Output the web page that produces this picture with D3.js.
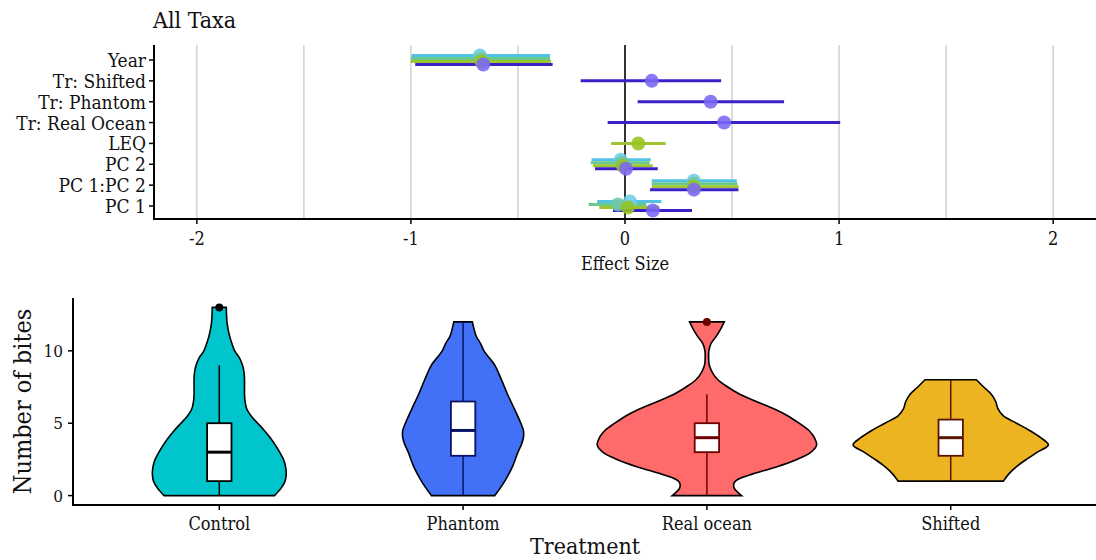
<!DOCTYPE html>
<html>
<head>
<meta charset="utf-8">
<script src="https://cdnjs.cloudflare.com/ajax/libs/d3/7.8.5/d3.min.js"></script>
<style>
  html, body { margin: 0; padding: 0; background: #fff; }
  svg text { font-family: "DejaVu Serif Condensed", "DejaVu Serif", serif; font-stretch: condensed; fill: #111; }
</style>
</head>
<body>
<svg id="chart" width="1096" height="560"></svg>
<script>
// ---------------- DATA ----------------
const chartTitle = "All Taxa";
const effectTerms = ["Year", "Tr: Shifted", "Tr: Phantom", "Tr: Real Ocean", "LEQ", "PC 2", "PC 1:PC 2", "PC 1"];
const effectTicks = [-2, -1, 0, 1, 2];
const effectGrid = [-2, -1.5, -1, -0.5, 0.5, 1, 1.5, 2];
const modelNames = ["Model 1", "Model 2", "Model 3", "Model 4"];
// [term, estimate, lower, upper]
const model1 = [
  ["Year", -0.678, -0.997, -0.35],
  ["PC 2", -0.02, -0.156, 0.12],
  ["PC 1:PC 2", 0.322, 0.125, 0.522],
  ["PC 1", 0.023, -0.13, 0.17]
];
const model2 = [
  ["Year", -0.675, -1.0, -0.35],
  ["PC 2", -0.015, -0.16, 0.115],
  ["PC 1:PC 2", 0.322, 0.125, 0.525],
  ["PC 1", -0.033, -0.17, 0.1]
];
const model3 = [
  ["Year", -0.67, -1.0, -0.345],
  ["LEQ", 0.062, -0.065, 0.19],
  ["PC 2", -0.01, -0.15, 0.13],
  ["PC 1:PC 2", 0.32, 0.125, 0.53],
  ["PC 1", 0.014, -0.12, 0.16]
];
const model4 = [
  ["Year", -0.662, -0.98, -0.338],
  ["Tr: Shifted", 0.125, -0.207, 0.449],
  ["Tr: Phantom", 0.40, 0.059, 0.743],
  ["Tr: Real Ocean", 0.463, -0.081, 1.005],
  ["PC 2", 0.005, -0.14, 0.153],
  ["PC 1:PC 2", 0.322, 0.117, 0.53],
  ["PC 1", 0.13, -0.056, 0.313]
];

const treatments = ["Control", "Phantom", "Real ocean", "Shifted"];
const biteTicks = [0, 5, 10];
const boxMin    = [0, 0, 0, 1];
const boxQ1     = [1, 2.75, 3, 2.75];
const boxMedian = [3, 4.5, 4, 4];
const boxQ3     = [5, 6.5, 5, 5.25];
const boxMax    = [9, 12, 7, 8];
const outliers  = [[13], [], [12], []];
// relative kernel density [bites, density]
const densControl = [[0,0.503],[0.5,0.562],[1,0.6],[1.5,0.61],[2,0.604],[2.5,0.585],[3,0.55],[3.5,0.51],[4,0.464],[4.5,0.41],[5,0.35],[5.5,0.29],[6,0.25],[6.5,0.235],[7,0.23],[7.5,0.23],[8,0.23],[8.5,0.226],[9,0.212],[9.5,0.185],[10,0.14],[10.5,0.115],[11,0.095],[11.5,0.08],[12,0.07],[12.5,0.066],[13,0.064]];
const densPhantom = [[0,0.289],[1,0.38],[2,0.45],[3,0.5],[3.5,0.53],[4,0.55],[4.5,0.55],[5,0.526],[6,0.467],[7,0.405],[8,0.35],[9,0.29],[9.5,0.24],[10,0.19],[10.5,0.16],[11,0.12],[11.5,0.1],[12,0.085]];
const densRealOcean = [[0,0.316],[0.5,0.25],[0.8,0.245],[1,0.26],[1.25,0.32],[1.5,0.42],[2,0.64],[2.5,0.82],[3,0.95],[3.5,1.0],[4,0.98],[4.5,0.93],[5,0.84],[5.5,0.74],[6,0.61],[6.5,0.45],[7,0.3],[7.5,0.19],[8,0.1],[8.5,0.05],[9,0.022],[9.5,0.016],[10,0.018],[10.5,0.037],[11,0.085],[11.5,0.125],[12,0.158]];
const densShifted = [[1,0.48],[1.5,0.53],[2,0.6],[2.5,0.69],[3,0.79],[3.5,0.89],[4,0.82],[4.5,0.72],[5,0.6],[5.5,0.48],[6,0.43],[6.5,0.41],[7,0.37],[7.5,0.3],[8,0.234]];
const densities = [densControl, densPhantom, densRealOcean, densShifted];

// ---------------- STYLE ----------------
const lineColors  = ["#52c2e4", "#68c98c", "#9dc52f", "#3b20c8"];
const pointColors = ["#6ccfe6", "#6fc7a5", "#97c21e", "#7a66f4"];
const violinFill  = ["#00C5CD", "#4271F7", "#FF6A6A", "#EDB422"];
const boxColor    = ["#000000", "#0b1463", "#6e0000", "#5a1400"];

(function draw() {
const svg = d3.select("#chart");

// ================= TOP PANEL =================
const xE = d3.scaleLinear().domain([-2.2, 2.2]).range([154, 1096]);
const yE = d3.scalePoint().domain(effectTerms).range([47.5, 218.5]).padding(0.6);
const topG = svg.append("g");

topG.selectAll("line.grid").data(effectGrid).join("line")
  .attr("x1", d => xE(d)).attr("x2", d => xE(d))
  .attr("y1", 45).attr("y2", 219)
  .attr("stroke", "#d4d4d4").attr("stroke-width", 1.6);

topG.append("line")
  .attr("x1", xE(0)).attr("x2", xE(0)).attr("y1", 45).attr("y2", 219)
  .attr("stroke", "#000").attr("stroke-width", 1.6);

const models = [model1, model2, model3, model4];
const allRows = [];
models.forEach((m, mi) => m.forEach(r => allRows.push({term: r[0], est: r[1], lo: r[2], hi: r[3], mi})));
const byTerm = d3.group(allRows, d => d.term);
byTerm.forEach(rows => {
  const n = rows.length;
  rows.forEach((r, i) => { r.off = (i - (n - 1) / 2) * 3; });
});

topG.selectAll("line.ci").data(allRows).join("line")
  .attr("x1", d => xE(d.lo)).attr("x2", d => xE(d.hi))
  .attr("y1", d => yE(d.term) + d.off).attr("y2", d => yE(d.term) + d.off)
  .attr("stroke", d => lineColors[d.mi]).attr("stroke-width", 3);

topG.selectAll("circle.pt").data(allRows).join("circle")
  .attr("cx", d => xE(d.est)).attr("cy", d => yE(d.term) + d.off)
  .attr("r", 7).attr("fill", d => pointColors[d.mi]).attr("fill-opacity", 0.88);

const axT = topG.append("g");
axT.append("line").attr("x1", 154).attr("x2", 1096).attr("y1", 219).attr("y2", 219)
  .attr("stroke", "#000").attr("stroke-width", 2);
axT.append("line").attr("x1", 154).attr("x2", 154).attr("y1", 45).attr("y2", 220)
  .attr("stroke", "#000").attr("stroke-width", 2);
axT.selectAll("line.yt").data(effectTerms).join("line")
  .attr("x1", 149).attr("x2", 154).attr("y1", d => yE(d)).attr("y2", d => yE(d))
  .attr("stroke", "#000").attr("stroke-width", 1.5);
axT.selectAll("text.yl").data(effectTerms).join("text")
  .attr("x", 146).attr("y", d => yE(d)).attr("text-anchor", "end")
  .attr("dominant-baseline", "central").attr("font-size", 19).text(d => d);
axT.selectAll("line.xt").data(effectTicks).join("line")
  .attr("x1", d => xE(d)).attr("x2", d => xE(d)).attr("y1", 219).attr("y2", 224)
  .attr("stroke", "#000").attr("stroke-width", 1.5);
axT.selectAll("text.xl").data(effectTicks).join("text")
  .attr("x", d => xE(d)).attr("y", 245).attr("text-anchor", "middle")
  .attr("font-size", 18).text(d => String(d));
svg.append("text").attr("x", xE(0)).attr("y", 270).attr("text-anchor", "middle")
  .attr("font-size", 18).text("Effect Size");
svg.append("text").attr("x", 153).attr("y", 28).attr("font-size", 23).text(chartTitle);

// ================= BOTTOM PANEL =================
const xT = d3.scalePoint().domain(treatments).range([73, 1097]).padding(0.6);
const yB = d3.scaleLinear().domain([-0.65, 13.65]).range([505, 298]);
const wScale = d3.scaleLinear().domain([0, 1]).range([0, xT.step() * 0.45]);
const boxHalf = xT.step() * 0.05;
const bot = svg.append("g");

treatments.forEach((t, i) => {
  const cx = xT(t);
  const g = bot.append("g");
  const area = d3.area()
    .y(d => yB(d[0]))
    .x0(d => cx - wScale(d[1]))
    .x1(d => cx + wScale(d[1]))
    .curve(d3.curveCatmullRom.alpha(0.5));
  g.append("path").datum(densities[i]).attr("d", area)
    .attr("fill", violinFill[i]).attr("stroke", "#000").attr("stroke-width", 1.6);
  g.append("line").attr("x1", cx).attr("x2", cx)
    .attr("y1", yB(boxMin[i])).attr("y2", yB(boxMax[i]))
    .attr("stroke", boxColor[i]).attr("stroke-width", 1.5);
  g.append("rect").attr("x", cx - boxHalf).attr("width", boxHalf * 2)
    .attr("y", yB(boxQ3[i])).attr("height", yB(boxQ1[i]) - yB(boxQ3[i]))
    .attr("fill", "#fff").attr("stroke", boxColor[i]).attr("stroke-width", 1.8);
  g.append("line").attr("x1", cx - boxHalf).attr("x2", cx + boxHalf)
    .attr("y1", yB(boxMedian[i])).attr("y2", yB(boxMedian[i]))
    .attr("stroke", boxColor[i]).attr("stroke-width", 3);
  g.selectAll("circle").data(outliers[i]).join("circle")
    .attr("cx", cx).attr("cy", d => yB(d)).attr("r", 4).attr("fill", boxColor[i]);
});

const axB = bot.append("g");
axB.append("line").attr("x1", 72).attr("x2", 1096).attr("y1", 505).attr("y2", 505)
  .attr("stroke", "#000").attr("stroke-width", 2);
axB.append("line").attr("x1", 73).attr("x2", 73).attr("y1", 298).attr("y2", 506)
  .attr("stroke", "#000").attr("stroke-width", 2);
axB.selectAll("line.yt").data(biteTicks).join("line")
  .attr("x1", 68).attr("x2", 73).attr("y1", d => yB(d)).attr("y2", d => yB(d))
  .attr("stroke", "#000").attr("stroke-width", 1.5);
axB.selectAll("text.yl").data(biteTicks).join("text")
  .attr("x", 63).attr("y", d => yB(d)).attr("text-anchor", "end")
  .attr("dominant-baseline", "central").attr("font-size", 17).text(d => d);
axB.selectAll("line.xt").data(treatments).join("line")
  .attr("x1", d => xT(d)).attr("x2", d => xT(d)).attr("y1", 505).attr("y2", 510)
  .attr("stroke", "#000").attr("stroke-width", 1.5);
axB.selectAll("text.xl").data(treatments).join("text")
  .attr("x", d => xT(d)).attr("y", 530).attr("text-anchor", "middle")
  .attr("font-size", 18).text(d => d);
svg.append("text").attr("x", (73 + 1097) / 2).attr("y", 554).attr("text-anchor", "middle")
  .attr("font-size", 23).text("Treatment");
svg.append("text").attr("transform", `translate(31,${(298 + 505) / 2}) rotate(-90)`)
  .attr("text-anchor", "middle").attr("font-size", 25).text("Number of bites");
})();
</script>
</body>
</html>
